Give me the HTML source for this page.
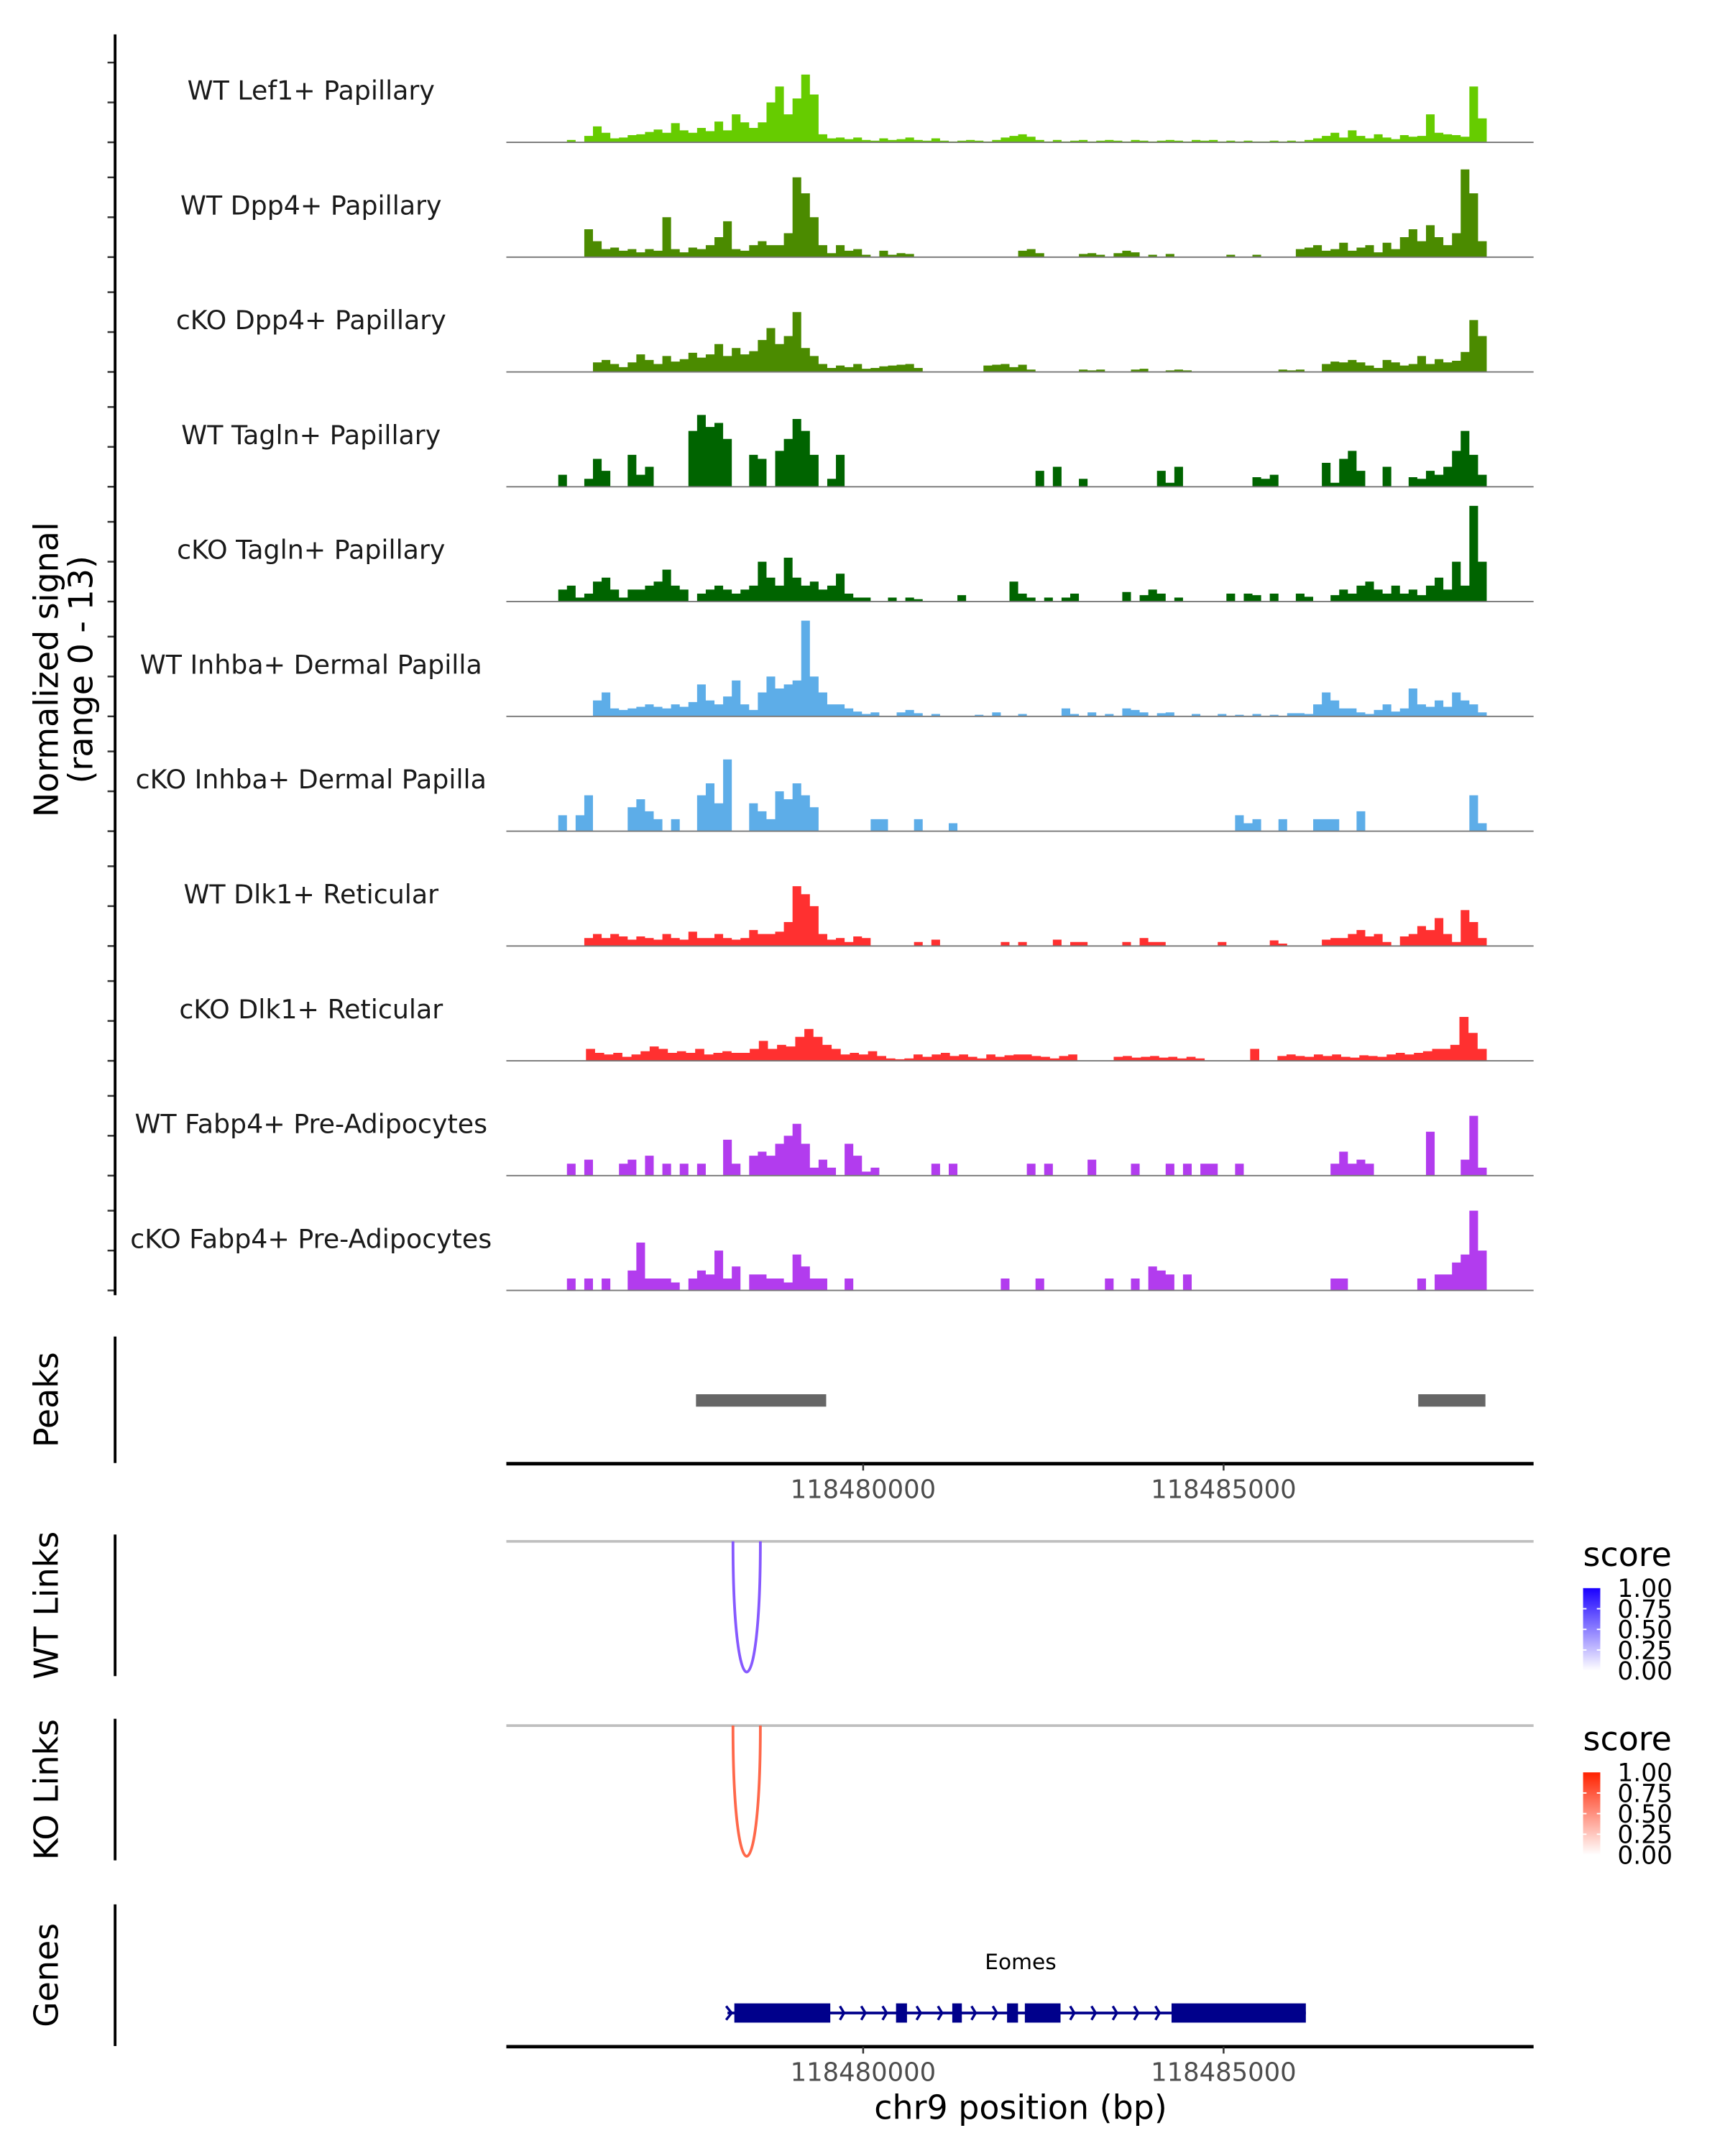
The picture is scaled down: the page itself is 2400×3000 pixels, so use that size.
<!DOCTYPE html>
<html>
<head>
<meta charset="utf-8">
<style>
html,body{margin:0;padding:0;background:#fff;}
svg{display:block;}
text{font-family:"DejaVu Sans","Liberation Sans",sans-serif;}
</style>
</head>
<body>
<svg id="chart" xmlns="http://www.w3.org/2000/svg" width="2400" height="3000" viewBox="0 0 1254 1568"></svg>
<script>
// ---- data ----
const trackNames = ["WT Lef1+ Papillary","WT Dpp4+ Papillary","cKO Dpp4+ Papillary","WT Tagln+ Papillary","cKO Tagln+ Papillary","WT Inhba+ Dermal Papilla","cKO Inhba+ Dermal Papilla","WT Dlk1+ Reticular","cKO Dlk1+ Reticular","WT Fabp4+ Pre-Adipocytes","cKO Fabp4+ Pre-Adipocytes"];
const trackColors = ["#66cc00","#4b8b00","#4b8b00","#006400","#006400","#5dade8","#5dade8","#ff3030","#ff3030","#b23cee","#b23cee"];
const sigLef1WT = [0,0,0.3,0,0.8,2,1.2,0.5,0.6,0.9,1,1.3,1.6,1.2,2.4,1.5,1.2,1.8,1.4,2.6,1.5,3.5,2.5,1.8,2.5,5,7,3.5,5.5,8.5,6,1,0.5,0.6,0.4,0.6,0.3,0.2,0.5,0.3,0.4,0.6,0.3,0.2,0.5,0.2,0.1,0.2,0.3,0.2,0.1,0.3,0.6,0.8,1,0.7,0.3,0.1,0.3,0.1,0.2,0.3,0.1,0.2,0.3,0.2,0.1,0.3,0.2,0.1,0.2,0.3,0.2,0.1,0.3,0.2,0.3,0.1,0.2,0.1,0.2,0.1,0.1,0.2,0.1,0.2,0.1,0.3,0.5,0.8,1.2,0.6,1.5,0.8,0.5,1,0.6,0.4,0.9,0.7,0.8,3.5,1.2,1,0.9,0.7,7,3];
const sigDpp4WT = [0,0,0,0,3.5,2,1,1.2,0.8,1,0.6,1,0.8,5,1,0.6,1.2,1,1.5,2.5,4.5,1,0.8,1.5,2,1.5,1.5,3,10,8,5,1.5,0.5,1.5,0.8,1,0.3,0,0.8,0.3,0.5,0.4,0,0,0,0,0,0,0,0,0,0,0,0,0.8,1,0.5,0,0,0,0,0.4,0.5,0.3,0,0.5,0.8,0.6,0,0.3,0,0.4,0,0,0,0,0,0,0.3,0,0,0.3,0,0,0,0,1,1.2,1.5,0.8,1,1.8,0.8,1.2,1.5,0.6,1.8,1,2.5,3.5,2,4,2.5,1.5,3,11,8,2];
const sigDpp4KO = [0,0,0,0,0,1.2,1.5,1,0.6,1.2,2.2,1.5,1,2,1.3,1.6,2.4,1.8,2.2,3.5,2,3,2.2,2.6,4,5.5,3.5,4.5,7.5,3,2,1,0.5,0.8,0.6,1,0.4,0.5,0.7,0.8,0.9,1,0.5,0,0,0,0,0,0,0,0.8,0.9,1,0.6,0.9,0.3,0,0,0,0,0,0.3,0.2,0.3,0,0,0,0.3,0.4,0,0,0.2,0.3,0.2,0,0,0,0,0,0,0,0,0,0,0.3,0.2,0.3,0,0,1,1.3,1.2,1.5,1.2,0.8,0.5,1.5,1.2,0.8,1,2,1,1.6,1.2,1.4,2.5,6.5,4.5];
const sigTaglnWT = [0,1.5,0,0,1,3.5,2,0,0,4,1.5,2.5,0,0,0,0,7,9,7.5,8,6,0,0,4,3.5,0,4.5,6,8.5,7,4,0,1,4,0,0,0,0,0,0,0,0,0,0,0,0,0,0,0,0,0,0,0,0,0,0,2,0,2.5,0,0,1,0,0,0,0,0,0,0,0,2,0.5,2.5,0,0,0,0,0,0,0,0,1.2,1,1.5,0,0,0,0,0,3,0.5,3.5,4.5,2,0,0,2.5,0,0,1.2,1,2,1.5,2.5,4.5,7,4,1.5];
const sigTaglnKO = [0,1.5,2,0.5,1,2.5,3,1.5,0.5,1.5,1.5,2,2.5,4,2,1.5,0,1,1.5,2,1.5,1,1.5,2,5,3,2,5.5,3,2,2.5,1.5,2,3.5,1,0.5,0.5,0,0,0.5,0,0.5,0.3,0,0,0,0,0.8,0,0,0,0,0,2.5,1,0.5,0,0.5,0,0.5,1,0,0,0,0,0,1.2,0,0.8,1.5,1,0,0.5,0,0,0,0,0,1,0,1,0.8,0,1,0,0,1,0.6,0,0,0.8,1.5,1,2,2.5,1.5,1,2,1,1.5,0.8,2,3,1.5,5,2,12,5];
const sigInhbaWT = [0,0,0,0,0,2,3,1,0.8,1,1.2,1.5,1.2,1,1.5,1.2,1.8,4,2,1.5,2.5,4.5,1.5,0.8,3,5,3.5,4,4.5,12,5,3,1.5,1.5,1,0.6,0.3,0.5,0,0,0.5,0.8,0.4,0,0.3,0,0,0,0,0.2,0,0.5,0,0,0.3,0,0,0,0,1,0.3,0,0.5,0,0.3,0,1,0.8,0.5,0,0.4,0.5,0,0,0.3,0,0,0.3,0,0.2,0,0.3,0,0.2,0,0.4,0.4,0.3,1.5,3,2,1,1,0.5,0.3,0.8,1.5,0.6,1,3.5,1.5,1.2,2,1.2,3,2,1.5,0.5];
const sigInhbaKO = [0,2,0,2,4.5,0,0,0,0,3,4,2.5,1.5,0,1.5,0,0,4.5,6,3.5,9,0,0,3.5,2.5,1.5,5,4,6,4.5,3,0,0,0,0,0,0,1.5,1.5,0,0,0,1.5,0,0,0,1,0,0,0,0,0,0,0,0,0,0,0,0,0,0,0,0,0,0,0,0,0,0,0,0,0,0,0,0,0,0,0,0,2,1,1.5,0,0,1.5,0,0,0,1.5,1.5,1.5,0,0,2.5,0,0,0,0,0,0,0,0,0,0,0,0,4.5,1];
const sigDlk1WT = [0,0,0,0,1,1.5,1,1.5,1.2,0.8,1.2,1,0.8,1.5,1,0.8,1.8,1,1,1.5,1,0.8,1,2,1.5,1.5,1.8,3,7.5,6.5,5,1.5,0.8,1,0.5,1.2,1,0,0,0,0,0,0.5,0,0.8,0,0,0,0,0,0,0,0.5,0,0.5,0,0,0,0.8,0,0.5,0.5,0,0,0,0,0.5,0,1,0.5,0.5,0,0,0,0,0,0,0.5,0,0,0,0,0,0.7,0.3,0,0,0,0,0.8,1,1,1.5,2,1.2,1.5,0.5,0,1.2,1.5,2.5,2,3.5,1.5,0.5,4.5,3,1];
const sigDlk1KO = [0,0,0,0,1.5,1,0.8,1,0.5,0.8,1.2,1.8,1.5,1,1.2,1,1.5,0.8,1,1.2,1,1,1.5,2.5,1.5,2,1.8,3,4,3,2,1.5,0.8,1,0.8,1.2,0.6,0.3,0.2,0.3,0.8,0.5,0.8,1,0.6,0.8,0.5,0.3,0.8,0.5,0.7,0.8,0.8,0.6,0.5,0.3,0.6,0.8,0,0,0,0,0.5,0.6,0.4,0.5,0.6,0.4,0.5,0.3,0.5,0.3,0,0,0,0,0,1.5,0,0,0.6,0.8,0.6,0.5,0.8,0.6,0.8,0.5,0.4,0.7,0.6,0.5,0.8,1,0.8,1,1.2,1.5,1.5,2,5.5,3.5,1.5];
const sigFabp4WT = [0,0,1.5,0,2,0,0,0,1.5,2,0,2.5,0,1.5,0,1.5,0,1.5,0,0,4.5,1.5,0,2.5,3,2.5,4,5,6.5,4,1,2,1,0,4,2.5,0.5,1,0,0,0,0,0,0,1.5,0,1.5,0,0,0,0,0,0,0,0,1.5,0,1.5,0,0,0,0,2,0,0,0,0,1.5,0,0,0,1.5,0,1.5,0,1.5,1.5,0,0,1.5,0,0,0,0,0,0,0,0,0,0,1.5,3,1.5,2,1.5,0,0,0,0,0,0,5.5,0,0,0,2,7.5,1];
const sigFabp4KO = [0,0,1.5,0,1.5,0,1.5,0,0,2.5,6,1.5,1.5,1.5,1,0,1.5,2.5,2,5,1.5,3,0,2,2,1.5,1.5,1,4.5,3,1.5,1.5,0,0,1.5,0,0,0,0,0,0,0,0,0,0,0,0,0,0,0,0,0,1.5,0,0,0,1.5,0,0,0,0,0,0,0,1.5,0,0,1.5,0,3,2.5,2,0,2,0,0,0,0,0,0,0,0,0,0,0,0,0,0,0,0,1.5,1.5,0,0,0,0,0,0,0,0,1.5,0,2,2,3.5,4.5,10,5];
const signals = [sigLef1WT,sigDpp4WT,sigDpp4KO,sigTaglnWT,sigTaglnKO,sigInhbaWT,sigInhbaKO,sigDlk1WT,sigDlk1KO,sigFabp4WT,sigFabp4KO];
const binStart = 118475650, binEnd = 118488650;
const xTicks = [118480000,118485000];
const xTickLabels = ["118480000","118485000"];
const peakStarts = [118477681,118487700];
const peakEnds = [118479487,118488632];
const linkStarts = [118478194];
const linkEnds = [118478574];
const linkScoresWT = [0.75];
const linkScoresKO = [0.75];
const geneStart = 118478118, geneEnd = 118486141;
const exonStarts = [118478213,118480456,118481236,118481996,118482243,118484278];
const exonEnds = [118479544,118480608,118481369,118482148,118482738,118486141];
const legendTicks = [0,0.25,0.5,0.75,1];
const legendLabels = ["0.00","0.25","0.50","0.75","1.00"];

// ---- scales ----
const X0 = 368, X1 = 1115;
const BP0 = 118475050, BP1 = 118489300;
function xs(bp){ return X0 + (bp-BP0)/(BP1-BP0)*(X1-X0); }
const trackBase0 = 103.5, trackStep = 83.5, unitPx = 5.8;
function ys(t,v){ return trackBase0 + t*trackStep - v*unitPx; }

const svg = document.getElementById('chart');
const NS = "http://www.w3.org/2000/svg";
function mk(tag, attrs, parent){
  const e = document.createElementNS(NS, tag);
  for (const k in attrs) e.setAttribute(k, attrs[k]);
  (parent||svg).appendChild(e);
  return e;
}

// ---- signal tracks ----
signals.forEach((arr, t) => {
  const g = mk('g', {});
  
  
  const base = ys(t,0);
  const bw = (binEnd-binStart)/arr.length;
  let d = 'M' + xs(binStart).toFixed(2) + ' ' + base;
  arr.forEach((v,i) => {
    const xa = xs(binStart + i*bw), xb = xs(binStart + (i+1)*bw);
    const y = ys(t,v);
    d += ' L' + xa.toFixed(2) + ' ' + y.toFixed(2) + ' L' + xb.toFixed(2) + ' ' + y.toFixed(2);
  });
  d += ' L' + xs(binEnd).toFixed(2) + ' ' + base + ' Z';
  const area = mk('path', {d: d, fill: trackColors[t], stroke: 'none'}, g);
  
  
  const bl = mk('line', {x1: X0, x2: X1, y1: base, y2: base, stroke: '#777', 'stroke-width': 1}, g);
  
  
  const lab = mk('text', {x: 226, y: base-31, 'text-anchor': 'middle', 'font-size': 19, fill: '#1a1a1a'}, g);
  lab.textContent = trackNames[t];
  
  
  [0,5,10].forEach(v => {
    const tk = mk('line', {x1: 78, x2: 83.5, y1: ys(t,v), y2: ys(t,v), stroke: '#333', 'stroke-width': 1.3}, g);
    
    
  });
});
const yAxis = mk('line', {x1: 83.5, x2: 83.5, y1: 25, y2: 942, stroke: '#000', 'stroke-width': 2});


const yt = mk('text', {transform: 'translate(42,487) rotate(-90)', 'text-anchor': 'middle', 'font-size': 24, fill: '#000'});


const ts1 = mk('tspan', {x: 0, y: 0}, yt); ts1.textContent = 'Normalized signal';
const ts2 = mk('tspan', {x: 0, y: 25}, yt); ts2.textContent = '(range 0 - 13)';

// ---- side panel helpers ----
function sidePanel(name, y0, y1, title){
  const l = mk('line', {x1: 83.5, x2: 83.5, y1: y0, y2: y1, stroke: '#000', 'stroke-width': 2});
  
  
  const t = mk('text', {transform: 'translate(42,' + ((y0+y1)/2) + ') rotate(-90)', 'text-anchor': 'middle', 'font-size': 24, fill: '#000'});
  t.textContent = title;
  
  
}
function xAxis(name, y){
  const l = mk('line', {x1: X0, x2: X1, y1: y, y2: y, stroke: '#000', 'stroke-width': 2.5});
  
  
  xTicks.forEach((bp, i) => {
    const tk = mk('line', {x1: xs(bp), x2: xs(bp), y1: y, y2: y+5, stroke: '#333', 'stroke-width': 1.3});
    
    
    const tl = mk('text', {x: xs(bp), y: y+25, 'text-anchor': 'middle', 'font-size': 18.5, fill: '#4d4d4d'});
    tl.textContent = xTickLabels[i];
    
    
  });
}

// ---- peaks ----
sidePanel('peaks', 972, 1064, 'Peaks');
peakStarts.forEach((s, i) => {
  const r = mk('rect', {x: xs(s), y: 1014, width: xs(peakEnds[i]) - xs(s), height: 9, fill: '#666'});
  
  
});
xAxis('peaks-x-axis', 1064.5);

// ---- links ----
function linksPanel(name, y0, y1, title, color0, color1, scores, legendY){
  sidePanel(name, y0, y1, title);
  const top = y0 + 5;
  const gl = mk('line', {x1: X0, x2: X1, y1: top, y2: top, stroke: '#bfbfbf', 'stroke-width': 2});
  
  
  linkStarts.forEach((s, i) => {
    const a = xs(s), b = xs(linkEnds[i]);
    const depth = (y1 - 3 - top) / 0.75;
    const p = mk('path', {d: 'M' + a + ' ' + top + ' C' + a + ' ' + (top+depth) + ' ' + b + ' ' + (top+depth) + ' ' + b + ' ' + top, fill: 'none', stroke: color1, 'stroke-width': 2, 'stroke-opacity': 0.55 + 0.45*scores[i]});
    
    
  });
  const lg = mk('g', {});
  
  
  const gid = 'grad-' + name;
  const defs = mk('defs', {}, lg);
  const grad = mk('linearGradient', {id: gid, x1: 0, y1: 1, x2: 0, y2: 0}, defs);
  mk('stop', {offset: 0, 'stop-color': '#ffffff'}, grad);
  mk('stop', {offset: 1, 'stop-color': color0}, grad);
  const st = mk('text', {x: 1151, y: legendY, 'font-size': 24, fill: '#000'}, lg);
  st.textContent = 'score';
  
  
  const bTop = legendY + 16, bBot = legendY + 76;
  const bar = mk('rect', {x: 1151, y: bTop, width: 12.5, height: bBot-bTop, fill: 'url(#' + gid + ')'}, lg);
  
  
  legendTicks.forEach((v, i) => {
    const yy = bBot - v*(bBot-bTop);
    if (v > 0 && v < 1) {
      mk('line', {x1: 1151, x2: 1153.5, y1: yy, y2: yy, stroke: '#fff', 'stroke-width': 1}, lg);
      mk('line', {x1: 1161, x2: 1163.5, y1: yy, y2: yy, stroke: '#fff', 'stroke-width': 1}, lg);
    }
    const lt = mk('text', {x: 1176, y: yy + 6.5, 'font-size': 18, fill: '#000'}, lg);
    lt.textContent = legendLabels[i];
    
    
  });
}
linksPanel('wt-links', 1116, 1219, 'WT Links', '#1a00ff', '#7744ff', linkScoresWT, 1139);
linksPanel('ko-links', 1250, 1353, 'KO Links', '#ff2200', '#ff5533', linkScoresKO, 1273);

// ---- genes ----
sidePanel('genes', 1385, 1488, 'Genes');
const gg = mk('g', {});


const gy = 1464;
mk('line', {x1: xs(geneStart), x2: xs(geneEnd), y1: gy, y2: gy, stroke: '#00008b', 'stroke-width': 2}, gg);
exonStarts.forEach((s, i) => {
  const r = mk('rect', {x: xs(s), y: gy-7, width: xs(exonEnds[i]) - xs(s), height: 14, fill: '#00008b'}, gg);
  
  
});
for (let i = 0; i < exonStarts.length - 1; i++) {
  const a = xs(exonEnds[i]), b = xs(exonStarts[i+1]);
  for (let x = a + 10; x < b - 3; x += 15.5) {
    mk('path', {d: 'M' + (x-3) + ' ' + (gy-5) + ' L' + x + ' ' + gy + ' L' + (x-3) + ' ' + (gy+5), fill: 'none', stroke: '#00008b', 'stroke-width': 1.8}, gg);
  }
}
mk('path', {d: 'M' + (xs(geneStart)-1) + ' ' + (gy-5) + ' L' + (xs(geneStart)+3) + ' ' + gy + ' L' + (xs(geneStart)-1) + ' ' + (gy+5), fill: 'none', stroke: '#00008b', 'stroke-width': 1.8}, gg);
const gl2 = mk('text', {x: 742, y: 1432, 'text-anchor': 'middle', 'font-size': 15.5, fill: '#000'}, gg);
gl2.textContent = 'Eomes';


xAxis('genes-x-axis', 1488.5);
const xt = mk('text', {x: 742, y: 1541, 'text-anchor': 'middle', 'font-size': 24, fill: '#000'});
xt.textContent = 'chr9 position (bp)';


</script>
</body>
</html>
